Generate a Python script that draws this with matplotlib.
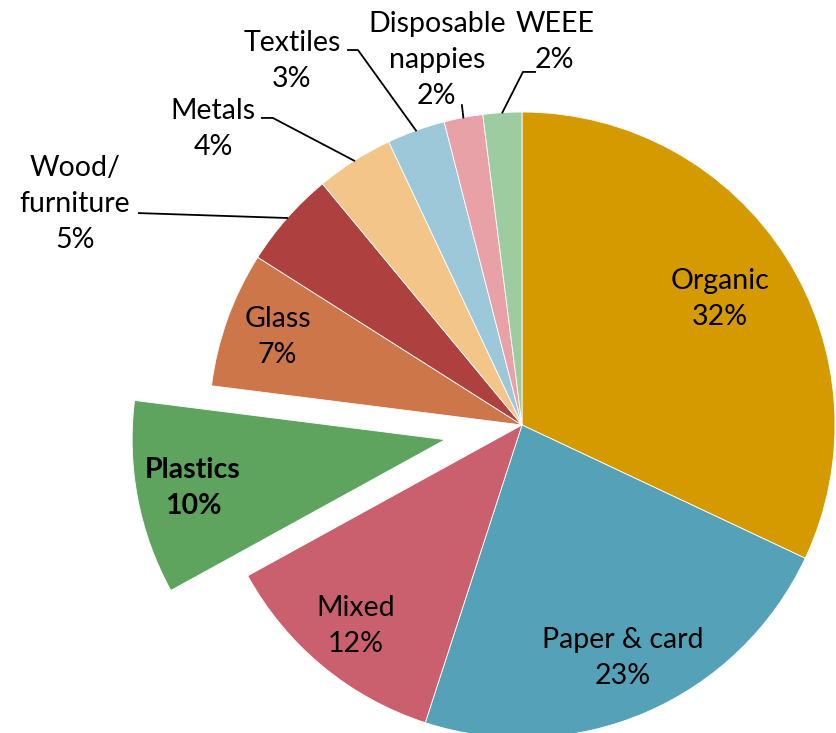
import numpy as np
import matplotlib
matplotlib.use("Agg")
import matplotlib.pyplot as plt

categories = ["Organic", "Paper & card", "Mixed", "Plastics", "Glass",
              "Wood/\nfurniture", "Metals", "Textiles", "Disposable\nnappies", "WEEE"]
shares = [32, 23, 12, 10, 7, 5, 4, 3, 2, 2]
colors = ["#D49A00", "#55A2B8", "#CA5F6D", "#5EA45E", "#CD7649",
          "#AF4040", "#F3C589", "#9CC8D9", "#E9A1A8", "#9ECCA1"]
explode = [0, 0, 0, 0.25, 0, 0, 0, 0, 0, 0]

# label radius for slices labelled inside
inside = {0: 0.75, 1: 0.81, 2: 0.835, 3: 0.82, 4: 0.83}
# outside labels: text centre, leader line start points (data units, radius = 1)
outside = {
    5: ((-1.428, 0.706), [(-1.224, 0.677)]),
    6: ((-0.987, 0.946), [(-0.831, 0.981), (-0.796, 0.981)]),
    7: ((-0.735, 1.163), [(-0.556, 1.198), (-0.524, 1.198)]),
    8: ((-0.272, 1.166), [(-0.192, 1.022)]),
    9: ((0.105, 1.224), [(0.042, 1.128), (0.003, 1.128)]),
}

plt.rcParams["font.family"] = ["Lato", "DejaVu Sans"]
FS = 20.5
LS = 1.48

fig = plt.figure(figsize=(8.36, 7.33), dpi=100)
ax = fig.add_axes([0, 0, 1, 1])

wedges, _ = ax.pie(shares, colors=colors, explode=explode, startangle=90,
                   counterclock=False, radius=1,
                   wedgeprops=dict(linewidth=0.6, edgecolor="white"))

for i, w in enumerate(wedges):
    mid = np.deg2rad((w.theta1 + w.theta2) / 2)
    txt = f"{categories[i]}\n{shares[i]}%"
    if i in inside:
        cx, cy = w.center
        r = inside[i]
        ax.text(cx + r * np.cos(mid), cy + r * np.sin(mid), txt,
                ha="center", va="center", fontsize=FS, linespacing=LS,
                fontweight="bold" if i == 3 else "normal")
    else:
        (tx, ty), pts = outside[i]
        ax.text(tx, ty, txt, ha="center", va="center", fontsize=FS,
                linespacing=LS)
        edge = (np.cos(mid), np.sin(mid))
        xs = [p[0] for p in pts] + [edge[0]]
        ys = [p[1] for p in pts] + [edge[1]]
        ax.plot(xs, ys, color="black", linewidth=1.3)

ax.set_xlim(-522 / 313, (836 - 522) / 313)
ax.set_ylim(-(733 - 425) / 313, 425 / 313)
ax.set_aspect("auto")
ax.axis("off")

fig.savefig("out.png", dpi=100)
